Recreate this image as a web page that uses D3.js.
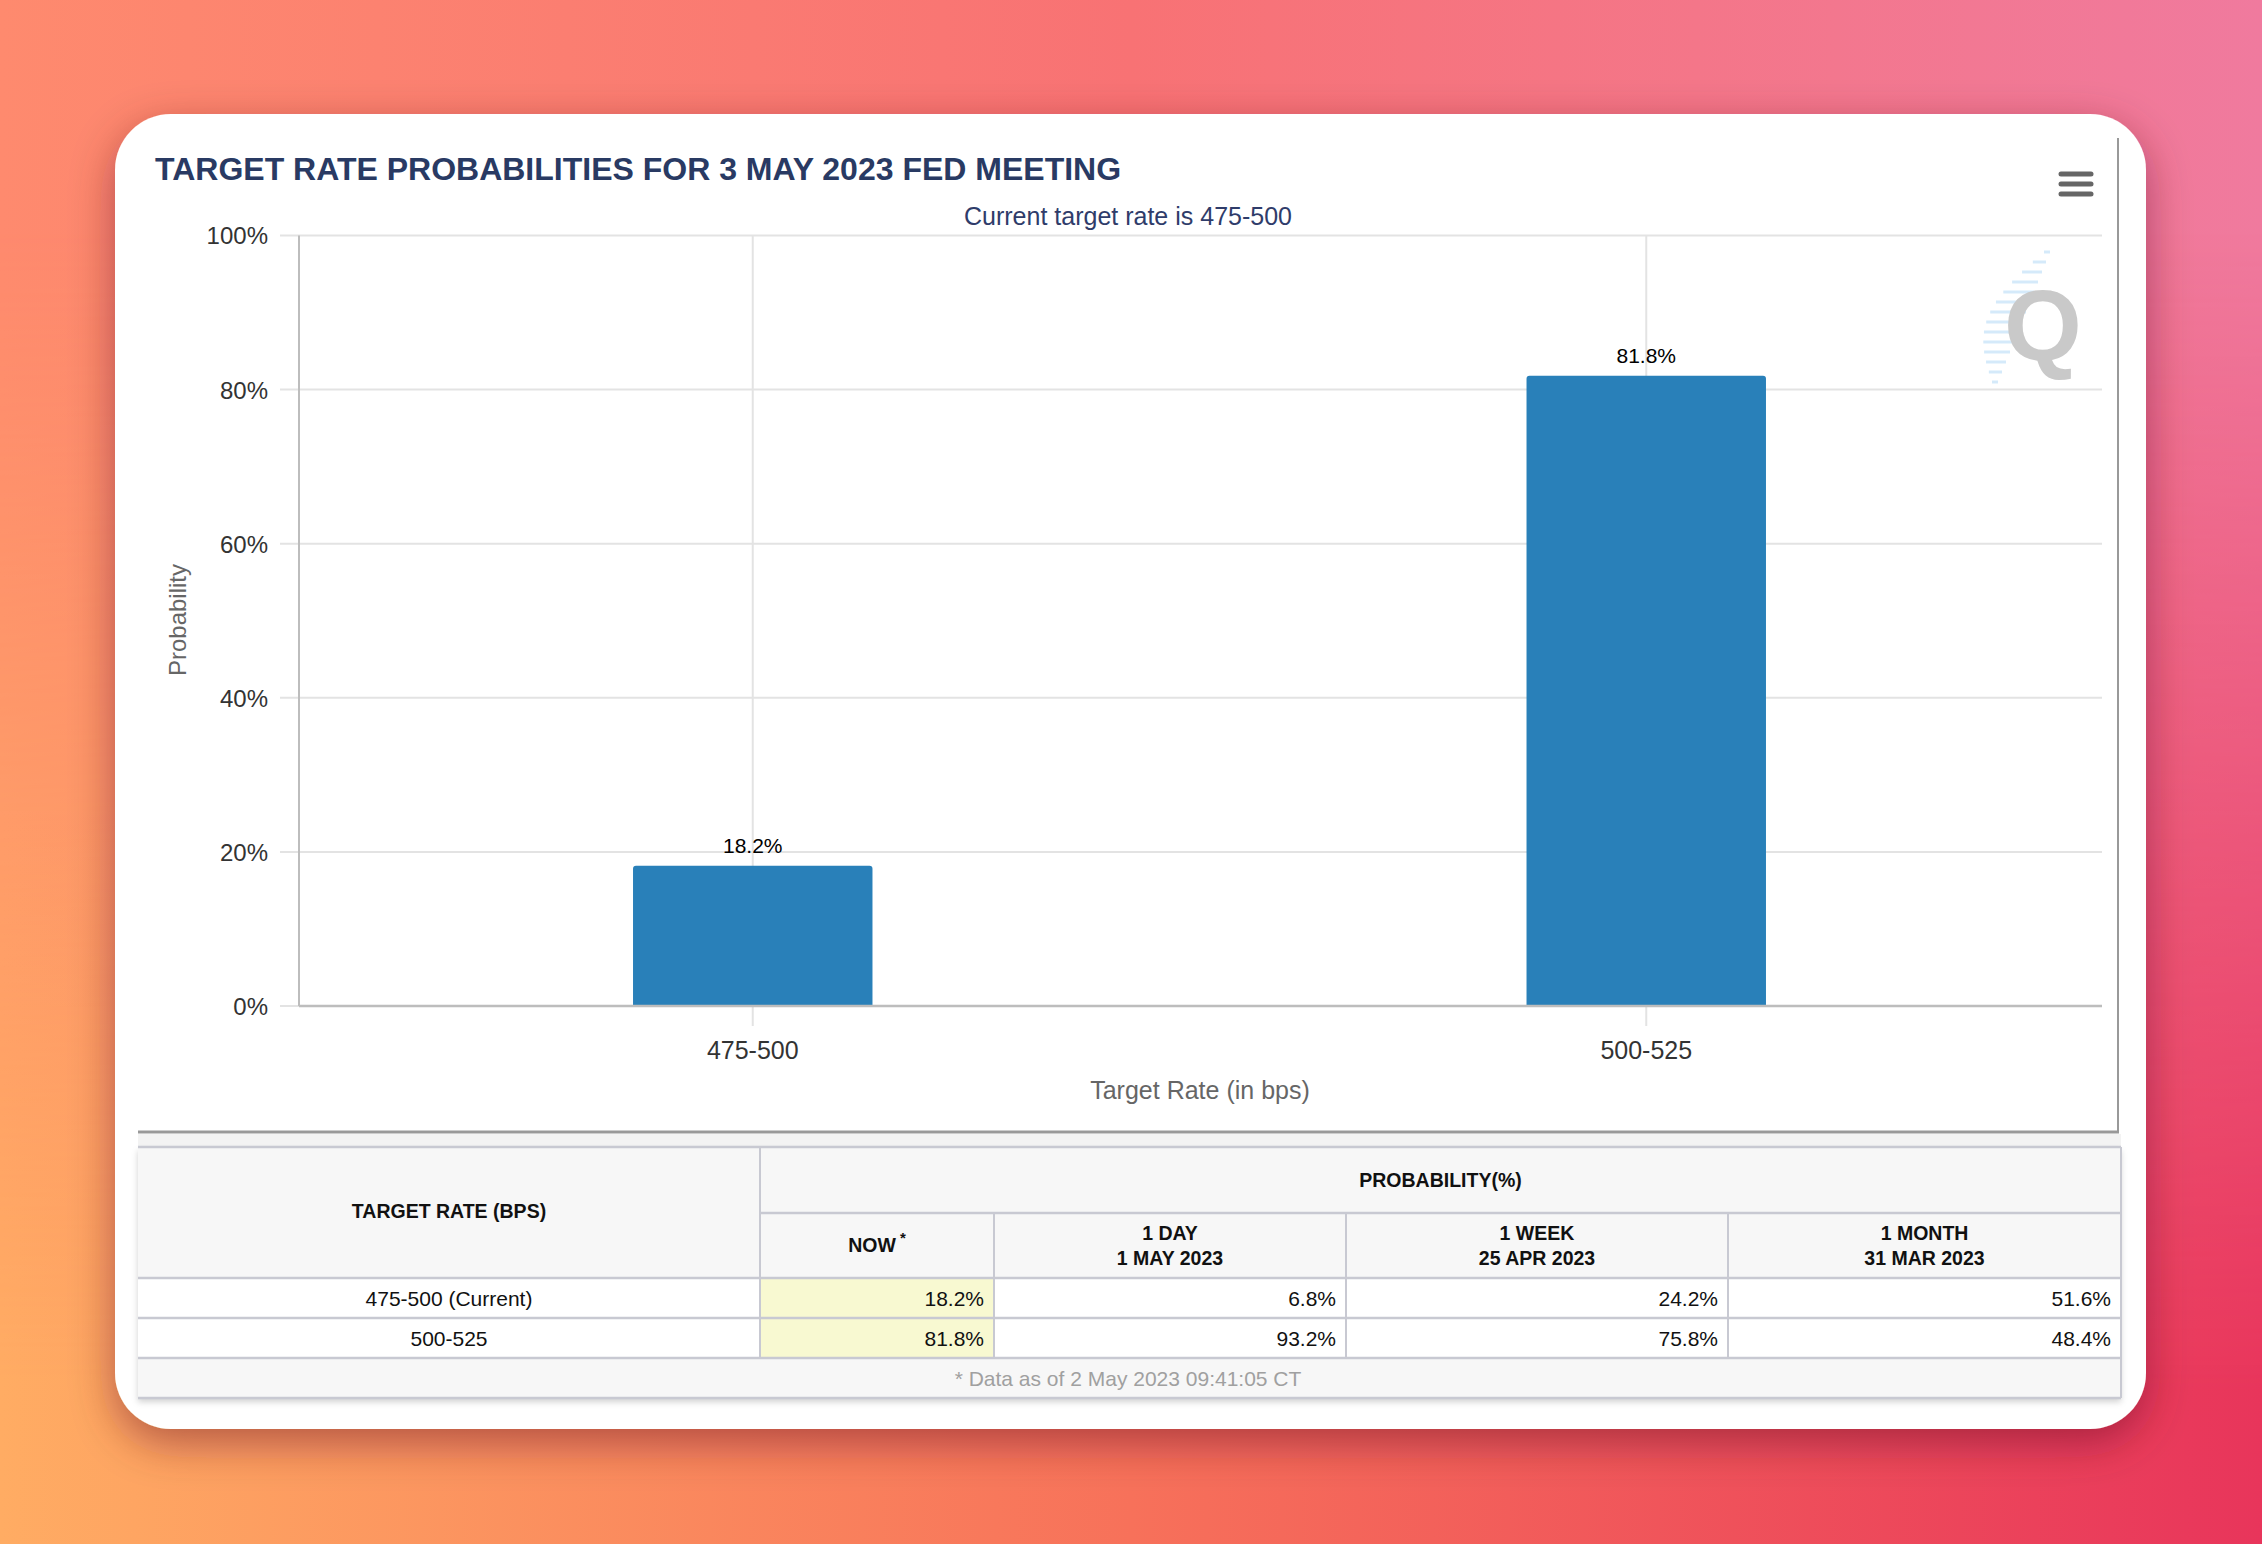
<!DOCTYPE html>
<html>
<head>
<meta charset="utf-8">
<script src="https://cdn.jsdelivr.net/npm/d3@7"></script>
<style>
  html, body { margin: 0; padding: 0; overflow: hidden; }
  svg { display: block; font-family: "Liberation Sans", Arial, Helvetica, sans-serif; }
</style>
</head>
<body>
<svg id="page" width="2262" height="1544"></svg>
<script>
// chart values
const categories = ['475-500', '500-525'];
const nowProb = [18.2, 81.8];
const yTicks = [0, 20, 40, 60, 80, 100];

// table values
const rowLabels = ['475-500 (Current)', '500-525'];
const oneDay = [6.8, 93.2];
const oneWeek = [24.2, 75.8];
const oneMonth = [51.6, 48.4];
const colHeads = [['NOW'], ['1 DAY', '1 MAY 2023'], ['1 WEEK', '25 APR 2023'], ['1 MONTH', '31 MAR 2023']];

const svg = d3.select('#page');
const defs = svg.append('defs');

// background: top colours across, bottom colours across, blended top->bottom
const gTop = defs.append('linearGradient').attr('id', 'gTop').attr('x1', 0).attr('x2', 1).attr('y1', 0).attr('y2', 0);
[['0%', '#fe8a6e'], ['50%', '#f87274'], ['100%', '#f07a9e']].forEach(s => gTop.append('stop').attr('offset', s[0]).attr('stop-color', s[1]));
const gBot = defs.append('linearGradient').attr('id', 'gBot').attr('x1', 0).attr('x2', 1).attr('y1', 0).attr('y2', 0);
[['0%', '#ffac63'], ['50%', '#f7715a'], ['100%', '#e8355b']].forEach(s => gBot.append('stop').attr('offset', s[0]).attr('stop-color', s[1]));
const gFade = defs.append('linearGradient').attr('id', 'gFade').attr('x1', 0).attr('x2', 0).attr('y1', 0).attr('y2', 1);
gFade.append('stop').attr('offset', '15%').attr('stop-color', '#fff').attr('stop-opacity', 0);
gFade.append('stop').attr('offset', '90%').attr('stop-color', '#fff').attr('stop-opacity', 1);
defs.append('mask').attr('id', 'mFade')
  .append('rect').attr('width', 2262).attr('height', 1544).attr('fill', 'url(#gFade)');

svg.append('rect').attr('width', 2262).attr('height', 1544).attr('fill', 'url(#gTop)');
svg.append('rect').attr('width', 2262).attr('height', 1544).attr('fill', 'url(#gBot)').attr('mask', 'url(#mFade)');

// card with shadow
const shadow = defs.append('filter').attr('id', 'shadow').attr('x', '-10%').attr('y', '-10%').attr('width', '120%').attr('height', '130%');
shadow.append('feDropShadow').attr('dx', 0).attr('dy', 14).attr('stdDeviation', 22)
  .attr('flood-color', '#5a1020').attr('flood-opacity', 0.45);
svg.append('rect').attr('x', 115).attr('y', 114).attr('width', 2031).attr('height', 1315)
  .attr('rx', 56).attr('fill', '#fff').attr('filter', 'url(#shadow)');

// title + subtitle
svg.append('text').attr('x', 155).attr('y', 180)
  .attr('font-size', 32).attr('font-weight', 'bold').attr('fill', '#293a63')
  .text('TARGET RATE PROBABILITIES FOR 3 MAY 2023 FED MEETING');
svg.append('text').attr('x', 1128).attr('y', 225).attr('text-anchor', 'middle')
  .attr('font-size', 25).attr('fill', '#2f3c6a')
  .text('Current target rate is 475-500');

// menu icon
svg.append('g').selectAll('line').data([174, 184, 194]).join('line')
  .attr('x1', 2061).attr('x2', 2091).attr('y1', d => d).attr('y2', d => d)
  .attr('stroke', '#666').attr('stroke-width', 5).attr('stroke-linecap', 'round');

// watermark: light blue swoosh dashes + grey Q
const wm = svg.append('g');
d3.range(252, 390, 10).forEach((yy, k, arr) => {
  const t = k / (arr.length - 1);
  const right = 2050 - t * 52;
  const len = 6 + 30 * Math.sin(Math.PI * t);
  wm.append('line').attr('x1', right).attr('x2', right - len).attr('y1', yy).attr('y2', yy)
    .attr('stroke', '#d5eafa').attr('stroke-width', 3);
});
wm.append('text').attr('x', 2043).attr('y', 360).attr('text-anchor', 'middle')
  .attr('font-size', 100).attr('font-weight', 'bold').attr('fill', '#c9c9c9').text('Q');

// chart frame lines (right / bottom of chart container)
svg.append('line').attr('x1', 2118).attr('x2', 2118).attr('y1', 138).attr('y2', 1132).attr('stroke', '#999').attr('stroke-width', 2);
svg.append('line').attr('x1', 138).attr('x2', 2119).attr('y1', 1132).attr('y2', 1132).attr('stroke', '#999').attr('stroke-width', 3);

// scales
const plotLeft = 299, plotRight = 2102, plotTop = 235.5, plotBottom = 1006;
const x = d3.scaleBand().domain(categories).range([306, 2093]);
const y = d3.scaleLinear().domain([0, 100]).range([plotBottom, plotTop]);
const barW = x.bandwidth() * 0.268;

const plot = svg.append('g');

// horizontal grid
plot.append('g').selectAll('line').data(yTicks).join('line')
  .attr('x1', 280).attr('x2', plotRight).attr('y1', d => y(d)).attr('y2', d => y(d))
  .attr('stroke', '#e3e3e3').attr('stroke-width', 2);
// vertical grid at categories
plot.append('g').selectAll('line').data(categories).join('line')
  .attr('x1', d => x(d) + x.bandwidth() / 2).attr('x2', d => x(d) + x.bandwidth() / 2)
  .attr('y1', plotTop).attr('y2', plotBottom + 20)
  .attr('stroke', '#e3e3e3').attr('stroke-width', 2);

// y axis labels
const yAxis = d3.axisLeft(y).tickValues(yTicks).tickFormat(d => d + '%').tickSize(0).tickPadding(0);
const yg = plot.append('g').attr('transform', `translate(268,0)`).call(yAxis);
yg.select('.domain').remove();
yg.selectAll('text').attr('font-size', 24).attr('fill', '#333').attr('font-family', '"Liberation Sans", Arial, sans-serif').attr('dy', '0.35em');

// axis lines
plot.append('line').attr('x1', plotLeft).attr('x2', plotLeft).attr('y1', plotTop).attr('y2', plotBottom)
  .attr('stroke', '#bdbdbd').attr('stroke-width', 2);

// bars
const barData = categories.map((c, i) => ({ cat: c, v: nowProb[i] }));
plot.append('g').selectAll('path').data(barData).join('path')
  .attr('d', d => {
    const x0 = x(d.cat) + x.bandwidth() / 2 - barW / 2, x1 = x0 + barW, y0 = y(d.v), y1 = y(0), r = 3;
    return `M${x0},${y1}V${y0 + r}Q${x0},${y0} ${x0 + r},${y0}H${x1 - r}Q${x1},${y0} ${x1},${y0 + r}V${y1}Z`;
  })
  .attr('fill', '#2980b9');
plot.append('g').selectAll('text').data(barData).join('text')
  .attr('x', d => x(d.cat) + x.bandwidth() / 2).attr('y', d => y(d.v) - 13)
  .attr('text-anchor', 'middle').attr('font-size', 21).attr('fill', '#000')
  .text(d => d.v.toFixed(1) + '%');

plot.append('line').attr('x1', plotLeft).attr('x2', plotRight).attr('y1', plotBottom).attr('y2', plotBottom)
  .attr('stroke', '#bdbdbd').attr('stroke-width', 2.5);

// x axis labels
const xAxis = d3.axisBottom(x).tickSize(0).tickPadding(0);
const xg = plot.append('g').attr('transform', `translate(0,${plotBottom})`).call(xAxis);
xg.select('.domain').remove();
xg.selectAll('text').attr('font-size', 25).attr('fill', '#333').attr('font-family', '"Liberation Sans", Arial, sans-serif')
  .attr('dy', 0).attr('y', 53);

// axis titles
svg.append('text').attr('x', 1200).attr('y', 1099).attr('text-anchor', 'middle')
  .attr('font-size', 25).attr('fill', '#666').text('Target Rate (in bps)');
svg.append('text').attr('transform', 'translate(186,620) rotate(-90)').attr('text-anchor', 'middle')
  .attr('font-size', 24).attr('fill', '#666').text('Probability');

// ---------- table ----------
const colX = [138, 760, 994, 1346, 1728, 2121];
const rowY = [1147, 1213, 1278, 1318, 1358, 1398];
const border = '#c8c9d2';
const tbl = svg.append('g');

// light band between chart and table
tbl.append('rect').attr('x', 138).attr('y', 1134).attr('width', 1983).attr('height', 13).attr('fill', '#f3f3f3');

const tShadow = defs.append('filter').attr('id', 'tshadow').attr('x', '-2%').attr('y', '-5%').attr('width', '104%').attr('height', '115%');
tShadow.append('feDropShadow').attr('dx', 0).attr('dy', 4).attr('stdDeviation', 3).attr('flood-color', '#000').attr('flood-opacity', 0.18);
tbl.append('rect').attr('x', colX[0]).attr('y', rowY[0]).attr('width', colX[5] - colX[0]).attr('height', rowY[5] - rowY[0])
  .attr('fill', '#f7f7f7').attr('filter', 'url(#tshadow)');

// data rows
const rows = rowLabels.map((l, i) => ({ label: l, vals: [nowProb[i], oneDay[i], oneWeek[i], oneMonth[i]] }));
const rowG = tbl.append('g').selectAll('g').data(rows).join('g');
rowG.append('rect').attr('x', colX[0]).attr('y', (d, i) => rowY[2 + i]).attr('width', colX[5] - colX[0]).attr('height', (d, i) => rowY[3 + i] - rowY[2 + i])
  .attr('fill', '#fff');
rowG.append('rect').attr('x', colX[1]).attr('y', (d, i) => rowY[2 + i]).attr('width', colX[2] - colX[1]).attr('height', (d, i) => rowY[3 + i] - rowY[2 + i])
  .attr('fill', '#f8f9d1');
rowG.append('text').attr('x', (colX[0] + colX[1]) / 2).attr('y', (d, i) => rowY[3 + i] - 12)
  .attr('text-anchor', 'middle').attr('font-size', 21).attr('fill', '#111').text(d => d.label);
rowG.each(function (d, i) {
  d3.select(this).selectAll('text.v').data(d.vals).join('text').attr('class', 'v')
    .attr('x', (v, j) => colX[2 + j] - 10).attr('y', rowY[3 + i] - 12)
    .attr('text-anchor', 'end').attr('font-size', 21).attr('fill', '#111').text(v => v.toFixed(1) + '%');
});

// borders
const hLines = [[colX[0], colX[5], rowY[0]], [colX[1], colX[5], rowY[1]], [colX[0], colX[5], rowY[2]],
                [colX[0], colX[5], rowY[3]], [colX[0], colX[5], rowY[4]], [colX[0], colX[5], rowY[5]]];
tbl.append('g').selectAll('line').data(hLines).join('line')
  .attr('x1', d => d[0]).attr('x2', d => d[1]).attr('y1', d => d[2]).attr('y2', d => d[2])
  .attr('stroke', border).attr('stroke-width', 2.5);
const vLines = [[colX[1], rowY[0], rowY[4]], [colX[2], rowY[1], rowY[4]], [colX[3], rowY[1], rowY[4]],
                [colX[4], rowY[1], rowY[4]], [colX[5], rowY[0], rowY[5]]];
tbl.append('g').selectAll('line').data(vLines).join('line')
  .attr('x1', d => d[0]).attr('x2', d => d[0]).attr('y1', d => d[1]).attr('y2', d => d[2])
  .attr('stroke', border).attr('stroke-width', 2);

// header text
tbl.append('text').attr('x', (colX[0] + colX[1]) / 2).attr('y', 1218).attr('text-anchor', 'middle')
  .attr('font-size', 19.5).attr('font-weight', 'bold').attr('fill', '#111').text('TARGET RATE (BPS)');
tbl.append('text').attr('x', (colX[1] + colX[5]) / 2).attr('y', 1187).attr('text-anchor', 'middle')
  .attr('font-size', 19.5).attr('font-weight', 'bold').attr('fill', '#111').text('PROBABILITY(%)');
const headG = tbl.append('g').selectAll('text').data(colHeads).join('text')
  .attr('text-anchor', 'middle').attr('font-size', 19.5).attr('font-weight', 'bold').attr('fill', '#111');
headG.each(function (d, j) {
  const cx = (colX[1 + j] + colX[2 + j]) / 2;
  const t = d3.select(this);
  if (d.length === 1) {
    t.attr('x', cx).attr('y', 1252).text(d[0]);
    t.append('tspan').attr('dx', 4).attr('dy', -9).attr('font-size', 15).text('*');
  } else {
    d.forEach((line, k) => t.append('tspan').attr('x', cx).attr('y', 1240 + k * 25).text(line));
  }
});

// footer
tbl.append('text').attr('x', 1128).attr('y', 1386).attr('text-anchor', 'middle')
  .attr('font-size', 21).attr('fill', '#a0a0a0').text('* Data as of 2 May 2023 09:41:05 CT');
</script>
</body>
</html>
